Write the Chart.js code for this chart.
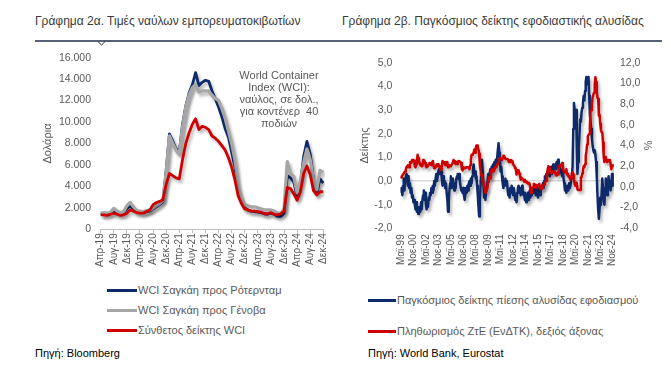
<!DOCTYPE html>
<html><head><meta charset="utf-8">
<script src="https://cdn.jsdelivr.net/npm/chart.js@4.4.1/dist/chart.umd.min.js"></script>
<style>
body{margin:0;background:#fff;width:671px;height:380px;position:relative;overflow:hidden;font-family:"Liberation Sans",Arial,sans-serif;}
.abs{position:absolute;}
.title{font-size:12px;line-height:14px;color:#3a3a3a;white-space:nowrap;}
.leg{font-size:11px;line-height:13px;color:#595959;white-space:nowrap;}
.src{font-size:11px;line-height:13px;color:#000;white-space:nowrap;}
.note{font-size:11px;line-height:12px;color:#595959;text-align:center;white-space:nowrap;}
.sw{height:3px;}
</style></head><body>
<div class="abs title" style="left:35px;top:14px;">Γράφημα 2α. Τιμές ναύλων εμπορευματοκιβωτίων</div>
<div class="abs title" style="left:342px;top:14px;">Γράφημα 2β. Παγκόσμιος δείκτης εφοδιαστικής αλυσίδας</div>
<svg class="abs" style="left:0;top:0" width="671" height="60"><line x1="35" y1="41" x2="662" y2="41" stroke="#1f2d4a" stroke-width="1.3"/><polyline points="98,41.6 101.5,45 105,41.6" fill="none" stroke="#1f2d4a" stroke-width="1"/></svg>

<canvas id="c1" class="abs" style="left:30px;top:45px" width="300" height="230"></canvas>
<canvas id="c2" class="abs" style="left:340px;top:45px" width="322" height="235"></canvas>

<div class="abs note" style="left:229px;top:69px;width:100px;">World Container<br>Index (WCI):<br>ναύλος, σε δολ.,<br>για κοντένερ&nbsp; 40<br>ποδιών</div>

<div class="abs sw" style="left:107px;top:289px;width:30px;background:#0d2b6b"></div>
<div class="abs leg" style="left:138px;top:284px;">WCI Σαγκάη προς Ρότερνταμ</div>
<div class="abs sw" style="left:107px;top:309px;width:30px;background:#a6a6a6"></div>
<div class="abs leg" style="left:138px;top:304px;">WCI Σαγκάη προς Γένοβα</div>
<div class="abs sw" style="left:107px;top:328.5px;width:30px;background:#d00000"></div>
<div class="abs leg" style="left:138px;top:323.5px;">Σύνθετος δείκτης WCI</div>
<div class="abs src" style="left:35px;top:347px;">Πηγή: Bloomberg</div>

<div class="abs sw" style="left:368px;top:299px;width:28px;background:#0d2b6b"></div>
<div class="abs leg" style="left:397px;top:294px;">Παγκόσμιος δείκτης πίεσης αλυσίδας εφοδιασμού</div>
<div class="abs sw" style="left:368px;top:330px;width:28px;background:#d00000"></div>
<div class="abs leg" style="left:397px;top:325px;">Πληθωρισμός ΖτΕ (ΕνΔΤΚ), δεξιός άξονας</div>
<div class="abs src" style="left:368px;top:346.5px;">Πηγή: World Bank, Eurostat</div>

<script>
// ---------- DATA ----------
const MONTH_NAMES = ['Ιαν','Φεβ','Μαρ','Απρ','Μαϊ','Ιουν','Ιουλ','Αυγ','Σεπ','Οκτ','Νοε','Δεκ'];

// Chart 2a: monthly, Apr-2019 .. Dec-2024 (USD per 40ft container)
const WCI_START = {year: 2019, month: 3};
const WCI_ROTTERDAM = [
  1450,1400,1450,1500,1650,1500,1400,1500,1900,
  2200,1900,1650,1600,1550,1650,1700,1900,2100,2300,2600,5500,
  8900,8200,7500,7200,9800,11500,12700,13500,14600,13400,13700,13900,
  13800,12900,12200,11400,10500,9400,8600,7200,5800,3400,2500,2000,
  1800,1700,1650,1600,1550,1450,1400,1500,1400,1200,1200,1500,
  5000,4800,4400,3000,4200,6800,8200,7000,4600,3300,4700,4300
];
const WCI_GENOA = [
  1500,1550,1500,1600,1950,1700,1550,1650,2200,
  2500,2100,1750,1700,1650,1750,1800,2000,2200,2400,2700,5300,
  8700,8000,7400,7000,9500,11400,12500,13200,13500,12800,12900,12900,
  12900,12500,12200,12000,11300,10400,9200,8000,6500,4000,3000,2300,
  2200,2100,2100,2000,1900,1800,1800,1800,1700,1500,1500,1900,
  6300,5200,4900,3400,4500,6200,7500,6500,4600,3700,5500,5300
];
const WCI_COMPOSITE = [
  1350,1350,1300,1400,1500,1400,1300,1350,1500,
  1800,1700,1550,1500,1500,1650,1800,2300,2500,2600,2750,4200,
  5200,5000,4800,4700,6500,8000,9000,9800,10300,9300,9600,9500,
  9300,8700,8500,8200,7800,7400,6700,5800,4600,3100,2400,1900,
  1800,1700,1700,1650,1600,1450,1450,1550,1400,1350,1450,1700,
  3900,3800,3300,2700,3500,5200,5900,5100,3600,3200,3500,3500
];
const WCI_TICKS = [0,2000,4000,6000,8000,10000,12000,14000,16000];

// Chart 2b: monthly, May-1999 .. Nov-2024
const GSC_START = {year: 1999, month: 4};
const GSCPI = [
  -0.5,-0.3,-0.6,-0.2,0.1,-0.4,0.0,0.2,
  0.3,0.1,-0.2,0.2,-0.3,-0.1,-0.5,-0.3,-0.7,-0.6,-0.9,-0.8,
  -1.0,-1.2,-0.9,-1.3,-1.1,-1.4,-1.3,-1.1,-1.3,-0.9,-1.2,-0.8,
  -0.6,-0.4,-0.8,-0.5,-1.0,-1.2,-0.9,-1.1,-0.7,-0.8,-0.5,-0.6,
  -0.3,-0.5,-0.2,-0.4,0.0,-0.2,0.1,0.3,0.0,0.2,0.4,0.5,
  0.3,0.6,0.4,0.1,-0.2,0.2,-0.1,0.0,-0.3,-0.1,-0.5,-0.8,
  -1.3,-0.9,-0.4,-0.1,0.2,-0.3,0.0,0.1,-0.2,-0.4,-0.1,-0.3,
  0.1,0.2,0.3,0.1,0.3,0.0,-0.2,-0.4,-0.3,-0.5,-0.3,-0.6,
  -0.8,-0.6,-0.3,-0.5,-0.2,-0.4,-0.1,0.0,-0.2,0.1,-0.1,0.2,
  0.5,0.7,0.3,0.4,0.1,0.2,-0.2,-0.6,-1.1,-1.5,-0.9,-0.2,
  0.4,0.9,0.5,-0.1,-0.7,-0.5,-0.8,-0.4,-0.1,0.0,0.3,0.1,
  0.3,0.5,0.2,0.6,0.4,0.7,0.5,0.8,0.6,0.9,0.7,1.0,
  1.0,1.6,1.2,0.9,0.4,0.6,0.2,-0.1,-0.3,0.0,-0.2,0.1,
  -0.1,0.0,-0.3,-0.6,-0.4,-0.7,-0.3,-0.5,-0.2,-0.4,-0.6,-0.3,
  -0.5,-0.8,-0.6,-0.9,-0.5,-0.3,-0.2,-0.5,-0.3,-0.6,-0.4,-0.2,
  -0.4,-0.6,-0.5,-0.8,-0.6,-0.9,-0.7,-0.5,-0.8,-0.6,-0.4,-0.7,
  -0.5,-0.6,-0.4,-0.3,-0.5,-0.2,-0.4,-0.6,-0.3,-0.5,-0.7,-0.5,
  -0.3,-0.6,-0.4,-0.2,-0.3,-0.1,-0.3,0.0,0.2,0.1,0.3,0.2,
  0.4,0.3,0.5,0.2,0.4,0.6,0.3,0.5,0.7,0.4,0.6,0.5,
  0.7,0.8,0.6,0.9,0.5,0.7,0.4,0.5,0.3,0.2,0.4,0.1,
  -0.1,-0.4,-0.2,-0.5,-0.3,-0.2,-0.4,-0.1,-0.3,-0.2,0.1,0.2,
  0.6,2.2,3.3,3.0,2.7,3.0,1.6,0.3,0.8,1.4,2.0,2.6,
  2.5,2.9,3.1,3.3,3.6,3.4,3.8,4.2,4.4,4.3,4.1,4.4,
  3.6,2.8,2.5,2.2,1.8,1.5,1.3,1.2,1.3,1.1,0.8,0.2,
  -0.6,-1.2,-1.6,-1.2,-0.7,-1.0,-0.5,0.1,-0.3,-0.8,-1.0,-0.4,
  0.1,-0.3,-0.6,-0.2,0.2,-0.3,0.0,-0.4,-0.1,0.3,-0.2
];
const HICP = [
  1.0,0.9,1.1,1.2,1.2,1.4,1.5,1.7,
  1.9,2.0,2.1,1.9,1.9,2.4,2.3,2.3,2.6,2.5,2.6,2.5,
  2.0,1.9,2.2,2.6,3.1,2.8,2.5,2.3,2.1,2.2,2.0,2.0,
  2.6,2.3,2.5,2.3,2.0,1.9,2.0,2.1,2.1,2.3,2.3,2.3,
  2.1,2.4,2.5,2.1,1.8,1.9,1.9,2.1,2.2,2.0,2.2,2.0,
  1.9,1.6,1.7,2.0,2.5,2.4,2.3,2.3,2.1,2.4,2.2,2.4,
  1.9,2.1,2.1,2.1,2.0,2.1,2.2,2.2,2.6,2.5,2.3,2.2,
  2.4,2.3,2.2,2.5,2.5,2.5,2.4,2.3,1.7,1.6,1.9,1.9,
  1.8,1.8,1.9,1.9,1.9,1.9,1.8,1.7,2.1,2.6,3.1,3.1,
  3.2,3.3,3.6,3.3,3.7,4.0,4.0,3.8,3.6,3.2,2.1,1.6,
  1.1,1.2,0.6,0.6,0.0,-0.1,-0.6,-0.2,-0.3,-0.1,0.5,0.9,
  0.9,0.8,1.6,1.6,1.7,1.5,1.7,1.6,1.9,1.9,1.9,2.2,
  2.3,2.4,2.7,2.8,2.7,2.7,2.6,2.6,3.0,3.0,3.0,2.7,
  2.7,2.7,2.7,2.6,2.4,2.4,2.4,2.6,2.6,2.5,2.2,2.2,
  2.0,1.8,1.7,1.2,1.4,1.6,1.6,1.3,1.1,0.7,0.9,0.8,
  0.8,0.7,0.5,0.7,0.5,0.5,0.4,0.4,0.3,0.4,0.3,-0.2,
  -0.6,-0.3,-0.1,0.0,0.3,0.2,0.2,0.1,-0.1,0.1,0.1,0.2,
  0.3,-0.2,0.0,-0.2,-0.1,0.1,0.2,0.2,0.4,0.5,0.6,1.1,
  1.7,2.0,1.5,1.9,1.4,1.3,1.3,1.5,1.5,1.4,1.5,1.3,
  1.3,1.1,1.4,1.2,2.0,2.0,2.1,2.0,2.1,2.3,1.9,1.5,
  1.4,1.5,1.4,1.7,1.2,1.3,1.0,1.0,0.8,0.7,1.0,1.3,
  1.4,1.2,0.7,0.3,0.1,0.3,0.4,-0.2,-0.3,-0.3,-0.3,-0.3,
  0.9,0.9,1.3,1.6,2.0,1.9,2.2,3.0,3.4,4.1,4.9,5.0,
  5.1,5.9,7.4,7.4,8.1,8.6,8.9,9.1,9.9,10.6,10.1,9.2,
  8.6,8.5,6.9,7.0,6.1,5.5,5.3,5.2,4.3,2.9,2.4,2.9,
  2.8,2.6,2.4,2.4,2.6,2.5,2.6,2.2,1.7,2.0,2.2
];
const GSC_LEFT_TICKS = [-2,-1,0,1,2,3,4,5];
const GSC_RIGHT_TICKS = [-4,-2,0,2,4,6,8,10,12];

// ---------- helpers ----------
function monthLabels(start, n){
  const out=[];
  for(let i=0;i<n;i++){
    const t=start.year*12+start.month+i;
    out.push(MONTH_NAMES[t%12]+'-'+String(Math.floor(t/12)%100).padStart(2,'0'));
  }
  return out;
}
const WCI_MONTHS = monthLabels(WCI_START, WCI_COMPOSITE.length);
const GSC_MONTHS = monthLabels(GSC_START, HICP.length);

const FONT = '"Liberation Sans", Arial, sans-serif';
const GREY = '#595959';
const NAVY = '#0d2b6b', RED = '#d00000', LGREY = '#a6a6a6';

const shadowPlugin = {
  id:'lineShadow',
  beforeDatasetDraw(chart){ const c=chart.ctx; c.save(); c.shadowColor='rgba(0,0,0,0.28)'; c.shadowBlur=3; c.shadowOffsetX=2; c.shadowOffsetY=3; },
  afterDatasetDraw(chart){ chart.ctx.restore(); }
};
const thousands = v => String(v).replace(/\B(?=(\d{3})+(?!\d))/g,'.');
const dec1 = v => Number(v).toFixed(1).replace('.',',');

// ---------- Chart 2a ----------
new Chart(document.getElementById('c1'), {
  type:'line',
  data:{labels:WCI_MONTHS, datasets:[
    {label:'WCI Σαγκάη προς Ρότερνταμ', data:WCI_ROTTERDAM, borderColor:NAVY, borderWidth:2.8, order:2},
    {label:'WCI Σαγκάη προς Γένοβα', data:WCI_GENOA, borderColor:LGREY, borderWidth:3.3, order:1},
    {label:'Σύνθετος δείκτης WCI', data:WCI_COMPOSITE, borderColor:RED, borderWidth:2.8, order:0}
  ]},
  plugins:[shadowPlugin],
  options:{
    responsive:false, animation:false, devicePixelRatio:1,
    elements:{point:{radius:0}, line:{tension:0, borderJoinStyle:'round'}},
    layout:{padding:{left:0,right:6.7,top:12.7,bottom:0}},
    plugins:{legend:{display:false}, tooltip:{enabled:false}},
    scales:{
      x:{
        grid:{display:true, drawOnChartArea:false, drawTicks:true, tickLength:4,
              color:c=> (c.index%4===0 ? '#bfbfbf' : 'rgba(0,0,0,0)')},
        border:{display:true, color:'#bfbfbf'},
        ticks:{autoSkip:false, minRotation:90, maxRotation:90, padding:0, color:GREY,
               font:{family:FONT,size:10}, callback:(v,i)=> (i%4===0 ? WCI_MONTHS[i] : '')},
        afterFit:s=>{ s.height=45.7; s.paddingLeft=0; s.paddingRight=0; }
      },
      y:{
        min:0, max:16000,
        afterBuildTicks:s=>{ s.ticks = WCI_TICKS.map(v=>({value:v})); },
        grid:{display:false, drawTicks:false}, border:{display:false},
        ticks:{padding:9.7, color:GREY, font:{family:FONT,size:10.5}, callback:v=>thousands(v)},
        title:{display:true, text:'Δολάρια', color:GREY, font:{family:FONT,size:11}, padding:{top:11.1,bottom:0}},
        afterFit:s=>{ s.width=70.7; s.paddingTop=0; s.paddingBottom=0; }
      }
    }
  }
});

// ---------- Chart 2b ----------
new Chart(document.getElementById('c2'), {
  type:'line',
  data:{labels:GSC_MONTHS, datasets:[
    {label:'Παγκόσμιος δείκτης πίεσης αλυσίδας εφοδιασμού', data:GSCPI, borderColor:NAVY, borderWidth:2.5, yAxisID:'y', order:1},
    {label:'Πληθωρισμός ΖτΕ (ΕνΔΤΚ), δεξιός άξονας', data:HICP, borderColor:RED, borderWidth:2.5, yAxisID:'y1', order:0}
  ]},
  plugins:[shadowPlugin],
  options:{
    responsive:false, animation:false, devicePixelRatio:1,
    elements:{point:{radius:0}, line:{tension:0, borderJoinStyle:'round'}},
    layout:{padding:{left:0,right:0,top:17.7,bottom:0}},
    plugins:{legend:{display:false}, tooltip:{enabled:false}},
    scales:{
      x:{
        grid:{display:false, drawTicks:false}, border:{display:false},
        ticks:{autoSkip:false, minRotation:90, maxRotation:90, padding:6, color:GREY,
               font:{family:FONT,size:10}, callback:(v,i)=> (i%18===0 ? GSC_MONTHS[i] : '')},
        afterFit:s=>{ s.height=51.7; s.paddingLeft=0; s.paddingRight=0; }
      },
      y:{
        position:'left', min:-2, max:5,
        afterBuildTicks:s=>{ s.ticks = GSC_LEFT_TICKS.map(v=>({value:v})); },
        grid:{drawTicks:false, lineWidth:1.5, color:c=> (c.tick && c.tick.value===0 ? '#d9d9d9' : 'rgba(0,0,0,0)')},
        border:{display:false},
        ticks:{padding:8.7, color:GREY, font:{family:FONT,size:10.5}, callback:v=>dec1(v)},
        title:{display:true, text:'Δείκτης', color:GREY, font:{family:FONT,size:11}, padding:{top:18.4,bottom:0}},
        afterFit:s=>{ s.width=61; s.paddingTop=0; s.paddingBottom=0; }
      },
      y1:{
        position:'right', min:-4, max:12,
        afterBuildTicks:s=>{ s.ticks = GSC_RIGHT_TICKS.map(v=>({value:v})); },
        grid:{display:false, drawTicks:false}, border:{display:false},
        ticks:{padding:7.3, color:GREY, font:{family:FONT,size:10.5}, callback:v=>dec1(v)},
        title:{display:true, text:'%', color:GREY, font:{family:FONT,size:11}, padding:{top:8.4,bottom:0}},
        afterFit:s=>{ s.width=49.3; s.paddingTop=0; s.paddingBottom=0; }
      }
    }
  }
});
</script>
</body></html>
